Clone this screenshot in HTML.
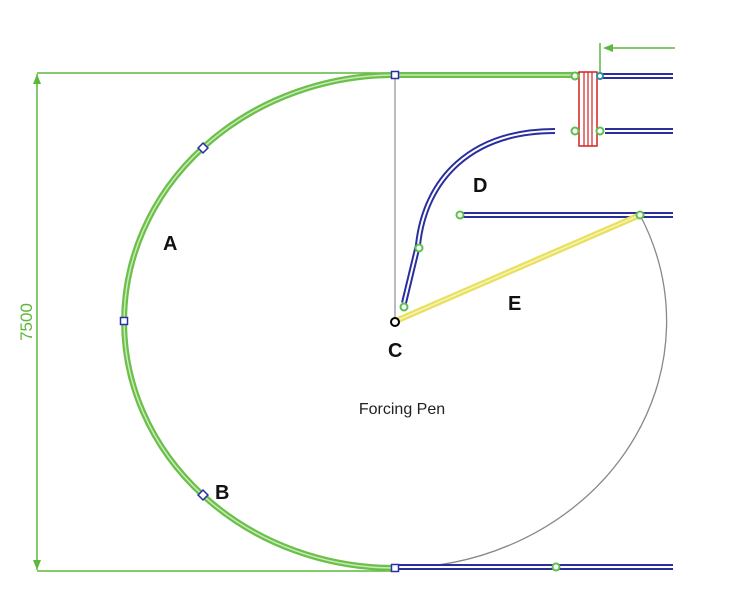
<!DOCTYPE html>
<html><head><style>body{margin:0;background:#fff}svg{display:block}</style></head><body>
<svg width="747" height="606" xmlns="http://www.w3.org/2000/svg" font-family="Liberation Sans, sans-serif">
<!-- dimension -->
<g stroke="#5cb83a" stroke-width="1.5" fill="none">
<line x1="37" y1="73" x2="395" y2="73"/>
<line x1="37" y1="571" x2="395" y2="571"/>
<line x1="37" y1="74" x2="37" y2="570"/>
<line x1="600" y1="43" x2="600" y2="72"/>
<line x1="675" y1="48" x2="612" y2="48"/>
</g>
<path d="M37,74 l-4,10 l8,0Z M37,570 l-4,-10 l8,0Z M603,48 l10,-4 l0,8Z" fill="#5cb83a"/>
<text x="0" y="0" transform="translate(32,322) rotate(-90)" text-anchor="middle" font-size="17" fill="#5cb83a">7500</text>
<!-- gray lines -->
<line x1="395" y1="75" x2="395" y2="318" stroke="#777" stroke-width="1"/>
<path d="M395,568 A271,246.5 0 0 0 640,215" fill="none" stroke="#888" stroke-width="1.3"/>
<!-- green rail -->
<g fill="none">
<path d="M395,75 A271,246.5 0 0 0 395,568" stroke="#6cc04a" stroke-width="6"/>
<path d="M395,75 A271,246.5 0 0 0 395,568" stroke="#c8eab8" stroke-width="1.5"/>
<line x1="395" y1="75" x2="580" y2="75" stroke="#6cc04a" stroke-width="6"/>
<line x1="395" y1="75" x2="580" y2="75" stroke="#c8eab8" stroke-width="1.5"/>
</g>
<!-- blue rails -->
<g fill="none" stroke="#2b2f9e" stroke-width="6">
<line x1="600" y1="76" x2="673" y2="76"/>
<line x1="605" y1="131" x2="673" y2="131"/>
<path d="M555,131 C470,131 425,180 418,245 L404,303"/>
<line x1="460" y1="215" x2="673" y2="215"/>
<line x1="395" y1="567" x2="673" y2="567"/>
</g>
<g fill="none" stroke="#fff" stroke-width="2">
<line x1="600" y1="76" x2="673" y2="76"/>
<line x1="605" y1="131" x2="673" y2="131"/>
<path d="M555,131 C470,131 425,180 418,245 L404,303"/>
<line x1="460" y1="215" x2="673" y2="215"/>
<line x1="395" y1="567" x2="673" y2="567"/>
</g>
<!-- yellow -->
<line x1="398" y1="320" x2="640" y2="215" stroke="#e8e060" stroke-width="6"/>
<line x1="398" y1="320" x2="640" y2="215" stroke="#f8f4b0" stroke-width="1.5"/>
<!-- red gate -->
<rect x="579" y="72" width="18" height="74" fill="#fff" stroke="#d42020" stroke-width="1.5"/>
<g stroke="#d42020" stroke-width="1.2"><line x1="584" y1="72" x2="584" y2="146"/><line x1="588" y1="72" x2="588" y2="146"/><line x1="592" y1="72" x2="592" y2="146"/></g>
<!-- nodes -->
<g fill="#fff" stroke="#2b2fa8" stroke-width="1.5">
<rect x="391.5" y="71.5" width="7" height="7"/>
<rect x="199.5" y="144.5" width="7" height="7" transform="rotate(45 203 148)"/>
<rect x="120.5" y="317.5" width="7" height="7"/>
<rect x="199.5" y="491.5" width="7" height="7" transform="rotate(45 203 495)"/>
<rect x="391.5" y="564.5" width="7" height="7"/>
</g>
<g fill="#fff" stroke="#5cc04a" stroke-width="2">
<circle cx="575" cy="76" r="3.5"/><circle cx="575" cy="131" r="3.5"/><circle cx="600" cy="131" r="3.5"/>
<circle cx="460" cy="215" r="3.5"/><circle cx="640" cy="215" r="3.5"/><circle cx="556" cy="567" r="3.5"/>
<circle cx="419" cy="248" r="3.5"/><circle cx="404" cy="307" r="3.5"/><circle cx="600" cy="76" r="3" stroke="#2b8fa8"/>
</g>
<circle cx="395" cy="322" r="4" fill="#fff" stroke="#000" stroke-width="2"/>
<!-- labels -->
<g font-weight="bold" font-size="20" fill="#111">
<text x="163" y="250">A</text>
<text x="215" y="499">B</text>
<text x="388" y="357">C</text>
<text x="473" y="192">D</text>
<text x="508" y="310">E</text>
</g>
<text x="402" y="414" text-anchor="middle" font-size="16" fill="#222">Forcing Pen</text>
</svg>
</body></html>
